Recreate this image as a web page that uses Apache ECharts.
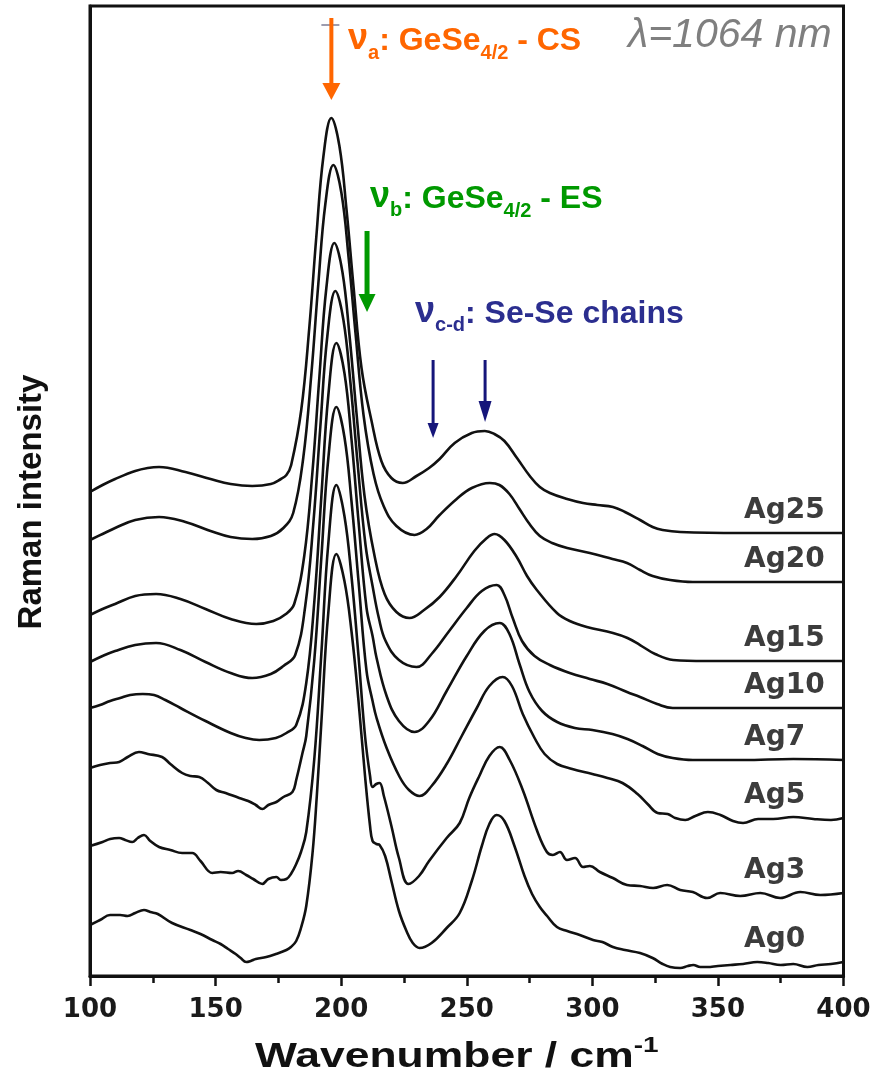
<!DOCTYPE html>
<html><head><meta charset="utf-8">
<script src="https://cdn.jsdelivr.net/npm/echarts@6/dist/echarts.min.js"></script>
<style>html,body{margin:0;padding:0;background:#fff}#c{width:877px;height:1077px}</style>
</head><body><div id="c"></div>
<script>
// Sample names (top to bottom)
const sampleNames = ['Ag25','Ag20','Ag15','Ag10','Ag7','Ag5','Ag3','Ag0'];
// x ticks (cm-1)
const xTickValues = [100,150,200,250,300,350,400];
// Offset Raman spectra [wavenumber, offset intensity (a.u.)]
const ag25 = [[100,484],[105,491],[110,497],[118,505],[123,508],[127.5,509],[138,504],[148,497],[156,492],[164.6,490],[172,492],[176,497],[178.2,501],[180.1,511],[184.1,566],[187.3,648],[190.1,739],[192.9,819],[196.1,858],[199.3,830],[202.1,767],[204.9,690],[208.1,608],[212.1,555],[216,515],[220,498],[224.5,493],[230,500],[235,508],[239.2,517],[245.2,533],[252,543],[257.2,545],[261,542],[265,535],[270,518],[275.1,500],[279.1,489],[283.1,483],[290,477],[296.3,473],[302,471],[308.2,469],[313,464],[319,456],[324,449],[328,446],[335,444],[359,443],[400,443]];
const ag20 = [[100,436],[105,442],[110,448],[118,456],[127.5,459],[138,454],[148,445],[156,439],[164.6,437],[172,440],[177,448],[180.9,463],[184.9,518],[188.1,601],[190.9,692],[193.7,772],[196.9,811],[200.1,783],[202.9,720],[205.7,643],[208.9,561],[212.9,502],[216.9,470],[222,450],[229.2,441],[234,447],[239.2,461],[246,477],[252,488],[259.2,493],[263,491],[267,482],[271,467],[275,452],[279.1,440],[284,433],[290,428],[299,423],[308,417],[313.8,413],[319,406],[324,400],[331,396],[340,394],[400,394]];
const ag15 = [[100,361],[105,367],[110,372],[118,380],[126.3,382],[136,377],[146,367],[156,357],[166.2,352],[173,355],[178,362],[181.3,372],[185.3,420],[188.5,502],[191.3,598],[194.1,688],[197.3,733],[200.5,704],[203.3,641],[206.1,563],[209.3,480],[213.3,420],[217.3,382],[222,364],[227.2,358],[233,366],[239.2,379],[246,400],[253,425],[258,438],[261.1,442],[265,436],[269.9,419],[274,400],[277.9,386],[285.9,363],[291,355],[297.8,349],[308.2,343],[314,338],[319,331],[325,322],[332.2,316],[345,315],[400,315]];
const ag10 = [[100,314],[105,320],[110,325],[118,331],[126.3,333],[136,326],[146,314],[156,303],[164.6,298],[172,302],[177,310],[181.7,321],[185.7,370],[188.9,452],[191.7,549],[194.5,640],[197.7,685],[200.9,656],[203.7,593],[206.5,514],[209.7,431],[212.5,390],[215,358],[217.7,335],[223,316],[230,309],[236,322],[243,345],[250,368],[256,385],[261.9,391],[265,381],[268.3,358],[272,335],[277,320],[283.1,311],[291,303],[299,297],[306,292],[313.8,284],[319,279],[325.8,272],[332,268],[340,268],[400,268]];
const ag7 = [[100,268],[104,271],[108,275],[112,278],[116,281],[121,282],[125.5,281],[130,276],[136,268],[146,255],[156,243],[162,238],[167.4,236],[174,238],[178.2,243],[182.1,251],[186.1,293],[189.3,374],[192.1,479],[194.9,581],[198.1,633],[201.3,603],[204.1,537],[206.9,455],[210.1,368],[212.5,340],[214.1,318],[218.1,280],[223,255],[229.2,244],[235,255],[242,285],[250,320],[257,345],[263.1,353],[267,342],[271,312],[275,284],[280,265],[286,254],[293,248],[300,246],[308,242],[314,237],[320,230],[326,222],[332,218],[340,216],[360,216],[380,217],[400,216]];
const ag5 = [[100,208],[104,211],[108,213],[111.6,214],[115,219],[119.5,224],[123,222],[128.7,219],[132,212],[136.7,203],[140,200],[143.5,199],[147,193],[150.3,186],[154,183],[159.4,178],[163,175],[166,171],[168.6,167],[171,171],[174.2,174],[177,179],[180.6,184],[182.1,196],[184.6,223],[186.1,240],[189.3,316],[192.1,418],[194.9,518],[198.1,569],[201.3,539],[204.1,475],[206.9,395],[210.1,305],[212.5,275],[214.1,258],[218.1,228],[223.3,199],[227,186],[231.2,180],[236,190],[242,212],[248,240],[254,268],[259,290],[264.3,299],[268,290],[272.3,262],[277,238],[281,222],[286,212],[292,207],[300,202],[306,198],[312,193],[318,182],[322,172],[326,163],[330,162],[333,158],[337,156],[341,160],[346,164],[351,161],[356,155],[360,153],[366,157],[372,157],[380,159],[388,157],[395,156],[400,158]];
const ag3 = [[100,130],[105,134],[108,137],[111.6,138],[114,136],[116.8,134],[119,138],[121.5,141],[124,135],[127.5,129],[132,126],[136.7,123],[140.7,123],[144,115],[148.7,103],[152,104],[156.6,103],[159,105],[162.2,101],[165,97],[168.6,92],[171,97],[174.2,99],[176,96],[178.2,97],[180,102],[182.1,112],[184,124],[186.1,144],[189.3,217],[192.1,322],[194.9,433],[198.1,491],[201.3,460],[204.1,400],[206.9,320],[209.5,240],[211.5,200],[212.5,189],[214,192],[215.3,193],[217,180],[220,150],[223,118],[226.8,92],[231,100],[235,115],[242,138],[247.2,153],[251,178],[255,200],[259,220],[263.1,229],[267.1,216],[272.3,186],[277.9,146],[281.9,124],[284.3,121],[287.1,124],[289.9,116],[293.1,118],[296.3,109],[299,110],[303,104],[308.2,98],[313.8,91],[319,90],[324.2,88],[329.8,91],[335,86],[340,84],[345.7,78],[350.9,83],[358.9,80],[366.9,83],[374.8,78],[382.8,84],[390.8,81],[400,83]];
const ag0 = [[100,51],[104,56],[108,61],[112,61],[115,60],[118,63],[121.5,66],[124,64],[127,62],[132.7,53],[140,46],[144,42],[148.7,36],[152,32],[155,27],[158,22],[160,18],[162.2,14],[164,15],[166,17],[170.2,19],[174,22],[178.2,26],[180,29],[182.1,35],[184,48],[186.1,70],[188.6,123],[190.3,180],[192.1,253],[194.9,364],[198.1,422],[201.3,395],[204.1,345],[206.9,275],[209.5,200],[211.5,150],[212.5,135],[214,132],[215.3,131],[217.5,120],[220,95],[223,65],[226,45],[228.5,33],[231.2,28],[236,33],[242,48],[247.2,63],[252,95],[256,130],[259,152],[261.9,161],[265,155],[269,130],[273,100],[276,82],[279.1,69],[282,60],[285.9,49],[290,45],[295,41],[300.3,36],[304,34],[308.2,29],[313,26],[319,23],[324,18],[328,12],[331,9],[335,8],[338,10],[340.2,11],[343,9],[345.7,9],[350,10],[355,11],[360,12],[365.7,14],[370,13],[375,11],[380,12],[385.6,9],[390,11],[395,12],[400,14]];
// Band positions marked by arrows (cm-1)
const bandA = 196.1, bandB = 210.3, bandC = 236.6, bandD = 257.3;

const spectra = [ag25, ag20, ag15, ag10, ag7, ag5, ag3, ag0];

const chart = echarts.init(document.getElementById('c'), null, {renderer:'canvas'});
chart.setOption({
  animation:false,
  backgroundColor:'#fff',
  grid:{left:90,right:33.5,top:6,bottom:101,show:true,borderColor:'#111',borderWidth:3,backgroundColor:'transparent'},
  xAxis:{type:'value',min:xTickValues[0],max:xTickValues[xTickValues.length-1],interval:50,
    axisLine:{show:true,onZero:false,lineStyle:{color:'#111',width:3}},
    axisTick:{show:true,inside:false,length:10,lineStyle:{color:'#111',width:2.5}},
    minorTick:{show:true,splitNumber:2,length:7,lineStyle:{color:'#111',width:2.5}},
    axisLabel:{margin:21,fontFamily:'DejaVu Sans',fontWeight:'bold',fontSize:26,color:'#1a1a1a'},
    splitLine:{show:false},minorSplitLine:{show:false}},
  yAxis:{type:'value',min:0,max:970,
    axisLine:{show:true,onZero:false,lineStyle:{color:'#111',width:3}},
    axisTick:{show:false},axisLabel:{show:false},splitLine:{show:false}},
  series: spectra.map((d,i)=>({type:'line',name:sampleNames[i],data:d,showSymbol:false,smooth:0.4,
    silent:true,lineStyle:{color:'#111',width:2.6},z:2}))
});

const mctx = document.createElement('canvas').getContext('2d');
function fontStr(p){ return (p.italic?'italic ':'') + (p.weight||'bold') + ' ' + p.size + 'px ' + (p.family||'"Liberation Sans"'); }
function tw(t, f){ mctx.font = f; return mctx.measureText(t).width; }
function textRun(x0, base, pieces, color){
  let x = x0; const out = [];
  pieces.forEach(p=>{
    const f = fontStr(p);
    out.push({type:'text',silent:true,z:10,style:{text:p.t,x:x,y:base+(p.dy||0)-0.3465*p.size,font:f,fill:color,
      align:'left',verticalAlign:'middle',textAlign:'left',textVerticalAlign:'middle'}});
    x += tw(p.t, f);
  });
  return out;
}
function px(v){ return chart.convertToPixel({gridIndex:0}, v); }
function arrow(xv, yTop, yTip, color, lw, headLen, headHalf){
  const a = px([xv, yTop]), b = px([xv, yTip]);
  return [
    {type:'line',silent:true,z:10,shape:{x1:a[0],y1:a[1],x2:b[0],y2:b[1]-headLen+2},style:{stroke:color,lineWidth:lw}},
    {type:'polygon',silent:true,z:10,shape:{points:[[b[0]-headHalf,b[1]-headLen],[b[0]+headHalf,b[1]-headLen],[b[0],b[1]]]},style:{fill:color}}
  ];
}

const g = [];
// arrows
const aTop = px([bandA, 951]);
g.push({type:'line',silent:true,z:9,shape:{x1:aTop[0]-10,y1:aTop[1],x2:aTop[0]+8,y2:aTop[1]},style:{stroke:'#5a5a7a',lineWidth:1.5,opacity:0.8}});
g.push(...arrow(bandA, 958, 876, '#FF6600', 4, 17, 9));
g.push(...arrow(bandB, 745, 664, '#009900', 5, 18, 8.5));
g.push(...arrow(bandC, 616, 538, '#16167a', 3, 15, 5.5));
g.push(...arrow(bandD, 616, 554, '#16167a', 3, 21, 6.5));

// annotation texts
const S = 32, SS = 20, NU = 36;
g.push(...textRun(348, 52, [{t:'ν',size:NU},{t:'a',size:SS,dy:8},{t:': GeSe',size:S},{t:'4/2',size:SS,dy:8},{t:' - CS',size:S}], '#FF6600'));
g.push(...textRun(370, 210, [{t:'ν',size:NU},{t:'b',size:SS,dy:7},{t:': GeSe',size:S},{t:'4/2',size:SS,dy:8},{t:' - ES',size:S}], '#009900'));
g.push(...textRun(415, 325, [{t:'ν',size:NU},{t:'c-d',size:SS,dy:7},{t:': Se-Se chains',size:S}], '#2b2e8f'));
g.push(...textRun(628, 50, [{t:'λ=1064 nm',size:41,italic:true,weight:'normal'}], '#7f7f7f'));

// sample labels
spectra.forEach((d,i)=>{
  const p = px([360.4, d[d.length-1][1]]);
  g.push({type:'text',silent:true,z:10,style:{text:sampleNames[i],x:p[0],y:p[1]-22,
    font:'bold 28px "DejaVu Sans"',fill:'#3c3c3c',align:'left',verticalAlign:'middle',textAlign:'left',textVerticalAlign:'middle'}});
});

// axis titles
const xt = textRun(0, 1069, [{t:'Wavenumber / cm',size:35},{t:'-1',size:22,dy:-15}], '#111');
g.push({type:'group',x:255,y:0,scaleX:1.27,children:xt});
g.push({type:'text',silent:true,z:10,x:31.6,y:502,rotation:Math.PI/2,
  style:{text:'Raman intensity',x:0,y:0,font:'bold 33px "Liberation Sans"',fill:'#111',align:'center',verticalAlign:'middle',textAlign:'center',textVerticalAlign:'middle'}});

chart.setOption({graphic:g});
</script></body></html>
